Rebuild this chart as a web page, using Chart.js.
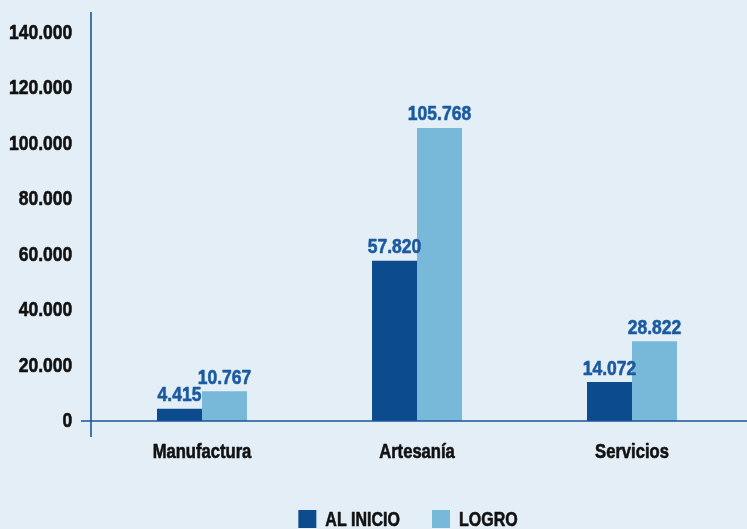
<!DOCTYPE html>
<html><head><meta charset="utf-8">
<script src="https://cdn.jsdelivr.net/npm/chart.js@4"></script>
<style>
html,body{margin:0;padding:0;background:#e3eef7;}
#wrap{width:747px;height:529px;position:relative;}
</style></head>
<body><div id="wrap"><canvas id="c" width="747" height="529"></canvas></div>
<script>
const categories = ['Manufactura', 'Artesanía', 'Servicios'];
const alInicio = [4415, 57820, 14072];
const logro = [10767, 105768, 28822];
const seriesNames = ['AL INICIO', 'LOGRO'];
const yTicks = [0, 20000, 40000, 60000, 80000, 100000, 120000, 140000];
const yMax = 147600;

const FONT = "'Liberation Sans', Arial, sans-serif";
const DARK = '#0c4b8e';
const LIGHT = '#78b9da';
const LABEL = '#1b5a9f';
const AXIS = '#1c5596';
const TEXT = '#111111';

function fmt(v){ return v.toLocaleString('de-DE'); }

// draw condensed bold text (horizontal scale) with given alignment
function cText(ctx, str, x, y, size, sx, align, baseline){
  ctx.save();
  ctx.font = 'bold ' + size + 'px ' + FONT;
  ctx.textBaseline = baseline;
  const w = ctx.measureText(str).width * sx;
  let left = x;
  if (align === 'center') left = x - w/2;
  else if (align === 'right') left = x - w;
  ctx.translate(left, y);
  ctx.scale(sx, 1);
  ctx.textAlign = 'left';
  ctx.strokeStyle = ctx.fillStyle;
  ctx.lineWidth = 0.6;
  ctx.lineJoin = 'round';
  ctx.fillText(str, 0, 0);
  ctx.strokeText(str, 0, 0);
  ctx.restore();
  return w;
}

const drawPlugin = {
  id: 'drawExtras',
  afterDatasetsDraw(chart){
    const ctx = chart.ctx, y = chart.scales.y, x = chart.scales.x;
    const ca = chart.chartArea;
    const zero = y.getPixelForValue(0);
    ctx.save();
    // axes
    ctx.strokeStyle = AXIS; ctx.lineWidth = 1.6;
    const ax = ca.left - 3.5;
    ctx.beginPath(); ctx.moveTo(ax, ca.top); ctx.lineTo(ax, zero + 16); ctx.stroke();
    ctx.beginPath(); ctx.moveTo(ax - 10, zero); ctx.lineTo(chart.width, zero); ctx.stroke();
    // y tick labels
    ctx.fillStyle = TEXT;
    yTicks.forEach(v => {
      cText(ctx, fmt(v), ax - 18.7, y.getPixelForValue(v) + 0.5, 20, 0.875, 'right', 'middle');
    });
    // category labels
    categories.forEach((c, i) => {
      cText(ctx, c, x.getPixelForValue(i), zero + 37, 20, 0.83, 'center', 'alphabetic');
    });
    // value labels
    ctx.fillStyle = LABEL;
    chart.data.datasets.forEach((ds, di) => {
      chart.getDatasetMeta(di).data.forEach((bar, i) => {
        cText(ctx, fmt(ds.data[i]), bar.x, bar.y - 7.5, 20, 0.875, 'center', 'alphabetic');
      });
    });
    // legend
    const legY = chart.height - 10;
    const box = 18, gapText = 9, gapItem = 32;
    const items = chart.data.datasets.map(ds => ({ label: ds.label, color: ds.backgroundColor }));
    ctx.font = 'bold 20px ' + FONT;
    const widths = items.map(it => box + gapText + ctx.measureText(it.label).width * 0.8);
    const total = widths.reduce((a,b)=>a+b,0) + gapItem * (items.length - 1);
    let lx = (ca.left + ca.right) / 2 - total / 2 - 9;
    items.forEach((it, i) => {
      ctx.fillStyle = it.color;
      ctx.fillRect(lx, legY - box/2, box, box);
      ctx.fillStyle = TEXT;
      cText(ctx, it.label, lx + box + gapText, legY + 7.2, 20, 0.8, 'left', 'alphabetic');
      lx += widths[i] + gapItem;
    });
    ctx.restore();
  }
};

new Chart(document.getElementById('c'), {
  type: 'bar',
  data: {
    labels: categories,
    datasets: [
      { label: seriesNames[0], data: alInicio, backgroundColor: DARK },
      { label: seriesNames[1], data: logro, backgroundColor: LIGHT }
    ]
  },
  options: {
    responsive: false,
    animation: false,
    layout: { padding: { top: 12, right: 7.5, left: 0, bottom: 0 } },
    datasets: { bar: { categoryPercentage: 90/215, barPercentage: 1 } },
    scales: {
      x: {
        grid: { display: false, drawTicks: false },
        border: { display: false },
        ticks: { display: false },
        afterFit(s){ s.height = 108; }
      },
      y: {
        min: 0, max: yMax,
        grid: { display: false, drawTicks: false },
        border: { display: false },
        ticks: { display: false },
        afterFit(s){ s.width = 94.5; }
      }
    },
    plugins: {
      tooltip: { enabled: false },
      legend: { display: false }
    }
  },
  plugins: [drawPlugin]
});
</script>
</body></html>
